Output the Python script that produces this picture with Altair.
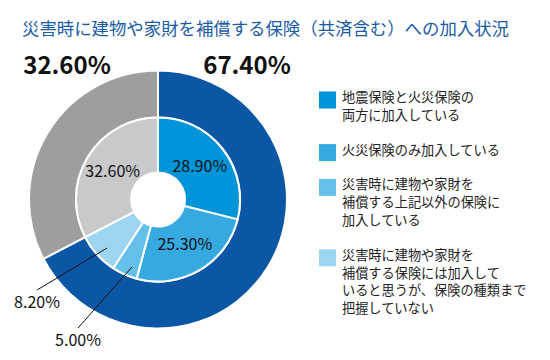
import altair as alt
import pandas as pd

title_text = "災害時に建物や家財を補償する保険（共済含む）への加入状況"

outer_keys = ["outer_in", "outer_out"]
outer_values = [67.4, 32.6]

inner_keys = ["both", "fire", "other", "unknown", "inner_out"]
inner_values = [28.9, 25.3, 5.0, 8.2, 32.6]

legend_labels = [
    "地震保険と火災保険の\n両方に加入している",
    "火災保険のみ加入している",
    "災害時に建物や家財を\n補償する上記以外の保険に\n加入している",
    "災害時に建物や家財を\n補償する保険には加入して\nいると思うが、保険の種類まで\n把握していない",
]

color_domain = outer_keys + inner_keys
color_range = ["#0b57a5", "#9e9e9e", "#0095d9", "#35a9e0", "#64bfe9", "#9dd5f0", "#c8c9ca"]

FONT = "Noto Sans CJK JP"
CX, CY = 150, 191.5

outer_df = pd.DataFrame({"key": outer_keys, "value": outer_values, "idx": range(len(outer_keys))})
inner_df = pd.DataFrame({
    "key": inner_keys,
    "value": inner_values,
    "idx": range(len(inner_keys)),
    "label": [f"{v:.2f}%" if v > 10 else "" for v in inner_values],
})

color = alt.Color("key:N", scale=alt.Scale(domain=color_domain, range=color_range), legend=None)
theta = alt.Theta("value:Q", stack=True)
order = alt.Order("idx:Q")

outer_arc = alt.Chart(outer_df).mark_arc(radius=129, innerRadius=82, stroke="white", strokeWidth=2).encode(
    theta=theta, color=color, order=order, x=alt.value(CX), y=alt.value(CY)
)
inner_arc = alt.Chart(inner_df).mark_arc(radius=82, innerRadius=27, stroke="white", strokeWidth=2).encode(
    theta=theta, color=color, order=order, x=alt.value(CX), y=alt.value(CY)
)
inner_text = alt.Chart(inner_df).mark_text(radius=53, font=FONT, fontSize=16, color="#111111").encode(
    theta=theta, order=order, text="label:N", x=alt.value(CX), y=alt.value(CY)
)

def txt(s, x, y, size, weight="normal", align="center", color="#111111"):
    return alt.Chart(pd.DataFrame({"t": [s]})).mark_text(
        font=FONT, fontSize=size, fontWeight=weight, align=align, baseline="middle", color=color
    ).encode(text="t:N", x=alt.value(x), y=alt.value(y))

title = txt(title_text, 14, 22, 17.4, weight="normal", align="left", color="#1a5ba6")
lbl_out_out = txt(f"{outer_values[1]:.2f}%", 59, 59, 24, weight="bold")
lbl_out_in = txt(f"{outer_values[0]:.2f}%", 239, 59, 24, weight="bold")
lbl_unknown = txt(f"{inner_values[3]:.2f}%", 29, 295, 16)
lbl_other = txt(f"{inner_values[2]:.2f}%", 70, 333, 16)

def leader(x1, y1, x2, y2):
    return alt.Chart(pd.DataFrame({"a": [0]})).mark_rule(color="#111111", strokeWidth=1).encode(
        x=alt.value(x1), y=alt.value(y1), x2=alt.value(x2), y2=alt.value(y2)
    )

line_unknown = leader(99, 240, 29, 282)
line_other = leader(124, 259, 70, 320)

# legend (positions derived from line counts)
ys = []
y = 92.0
for lab in legend_labels:
    ys.append(y)
    y += lab.count("\n") * 17.8 + 17.8 + 17
leg_df = pd.DataFrame({"key": inner_keys[:4], "label": legend_labels, "y": ys, "ytop": [v - 8.0 for v in ys]})

leg_sq = alt.Chart(leg_df).mark_square(size=289, opacity=1).encode(
    x=alt.value(319.5), y=alt.Y("y:Q", scale=None), color=color
)
leg_txt = alt.Chart(leg_df).mark_text(
    font=FONT, fontSize=13.2, align="left", baseline="top", lineBreak="\n", lineHeight=17.8, color="#222222"
).encode(x=alt.value(334), y=alt.Y("ytop:Q", scale=None), text="label:N")

chart = alt.layer(
    outer_arc, inner_arc, inner_text, line_unknown, line_other,
    title, lbl_out_out, lbl_out_in, lbl_unknown, lbl_other, leg_sq, leg_txt
).properties(
    width=534, height=344, autosize=alt.AutoSizeParams(type="none"), padding=0
).configure_view(stroke=None)

chart.save("out.html", embed_options={"renderer": "svg", "actions": False})
